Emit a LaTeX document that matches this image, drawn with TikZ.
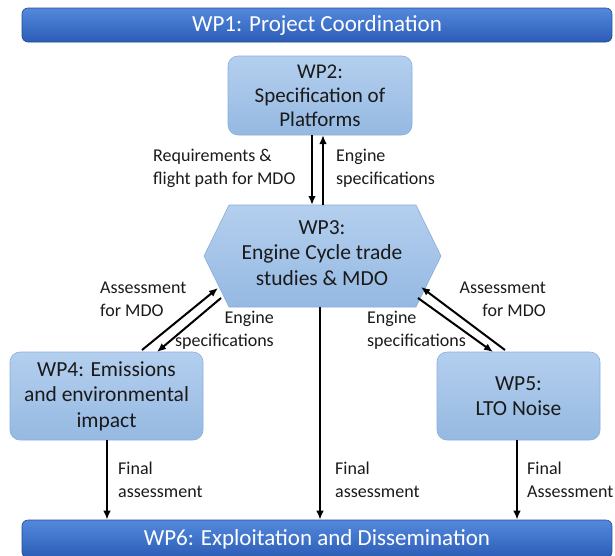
\documentclass[tikz,border=0pt]{standalone}
\usepackage{fontspec}
\setmainfont{Carlito}
\usetikzlibrary{arrows.meta}
\definecolor{darktop}{HTML}{5389DD}
\definecolor{darkbot}{HTML}{2C5CB6}
\definecolor{lighttop}{HTML}{B4CFEE}
\definecolor{lightbot}{HTML}{95B9E2}
\definecolor{lightedge}{HTML}{8AAEDB}
\definecolor{txt}{HTML}{1A1A1A}
\begin{document}
\begin{tikzpicture}[x=1pt,y=-1pt,
  darkbox/.style={rounded corners=6pt, top color=darktop, bottom color=darkbot, draw=darkbot!80!black, line width=0.6pt,
    text=white, font=\fontsize{23}{26}\selectfont, inner sep=0pt},
  lightbox/.style={rounded corners=10pt, top color=lighttop, bottom color=lightbot, draw=lightedge, line width=0.6pt,
    text=txt, align=center, inner sep=0pt},
  boxfont/.style={font=\fontsize{21.5}{25.5}\selectfont},
  lbl/.style={text=txt, font=\fontsize{18}{23}\selectfont, inner sep=0pt},
  arr/.style={line width=2pt, -{Latex[length=9pt,width=7.5pt]}}
]
\useasboundingbox (0,0) rectangle (615,555);
\clip (0,0) rectangle (615,555);
% WP1 and WP6
\node[darkbox, minimum width=590pt, minimum height=34pt] (wp1) at (317,25) {WP1: Project Coordination};
\node[darkbox, minimum width=590pt, minimum height=38pt] (wp6) at (317,539) {WP6: Exploitation and Dissemination};
% WP2
\node[lightbox, minimum width=184pt, minimum height=79pt, font=\fontsize{21}{24}\selectfont] (wp2) at (320,95.5) {WP2:\\Specification of\\Platforms};
% WP3 hexagon
\coordinate (h1) at (204,256);
\coordinate (h2) at (229,205);
\coordinate (h3) at (416,205);
\coordinate (h4) at (441,256);
\coordinate (h5) at (416,307);
\coordinate (h6) at (229,307);
\path[top color=lighttop, bottom color=lightbot, draw=lightedge, line width=0.6pt] (h1) -- (h2) -- (h3) -- (h4) -- (h5) -- (h6) -- cycle;
\node[text=txt, align=center, boxfont, inner sep=0pt] (wp3) at (322,253) {WP3:\\Engine Cycle trade\\studies \& MDO};
% WP4, WP5
\node[lightbox, boxfont, minimum width=193pt, minimum height=88pt] (wp4) at (106.5,396) {WP4: Emissions\\and environmental\\impact};
\node[lightbox, boxfont, minimum width=163pt, minimum height=88pt] (wp5) at (518.5,396) {WP5:\\LTO Noise};

% WP2 <-> WP3
\coordinate (a1s) at (312,135); \coordinate (a1e) at (312,205);
\coordinate (a2s) at (323,205); \coordinate (a2e) at (323,135);
\draw[arr] (a1s) -- (a1e);
\draw[arr] (a2s) -- (a2e);
\node[lbl, align=left, anchor=west] (l1) at (153,168.5) {Requirements \&\\flight path for MDO};
\node[lbl, align=left, anchor=west] (l2) at (336,168.5) {Engine\\specifications};

% WP4 <-> WP3
\coordinate (b1s) at (142,350); \coordinate (b1e) at (218,288);
\coordinate (b2s) at (221,298); \coordinate (b2e) at (157,352);
\draw[arr] (b1s) -- (b1e);
\draw[arr] (b2s) -- (b2e);
\node[lbl, align=left, anchor=west] (l3) at (100,299.5) {Assessment\\for MDO};
\node[lbl, align=right, anchor=east] (l4) at (274,330.5) {Engine\\specifications};

% WP5 <-> WP3
\coordinate (c1s) at (505,350); \coordinate (c1e) at (421,287);
\coordinate (c2s) at (418,298); \coordinate (c2e) at (493,352);
\draw[arr] (c1s) -- (c1e);
\draw[arr] (c2s) -- (c2e);
\node[lbl, align=right, anchor=east] (l5) at (546,299.5) {Assessment\\for MDO};
\node[lbl, align=left, anchor=west] (l6) at (367,330.5) {Engine\\specifications};

% to WP6
\draw[arr] (wp4.south -| 107,0) -- (wp6.north -| 107,0);
\draw[arr] (h6 -| 320,0) -- (wp6.north -| 320,0);
\draw[arr] (wp5.south -| 517,0) -- (wp6.north -| 517,0);
\node[lbl, align=left, anchor=west] (l7) at (118,479.5) {Final\\assessment};
\node[lbl, align=left, anchor=west] (l8) at (335,479.5) {Final\\assessment};
\node[lbl, align=left, anchor=west] (l9) at (527,479.5) {Final\\Assessment};
\end{tikzpicture}
\end{document}
